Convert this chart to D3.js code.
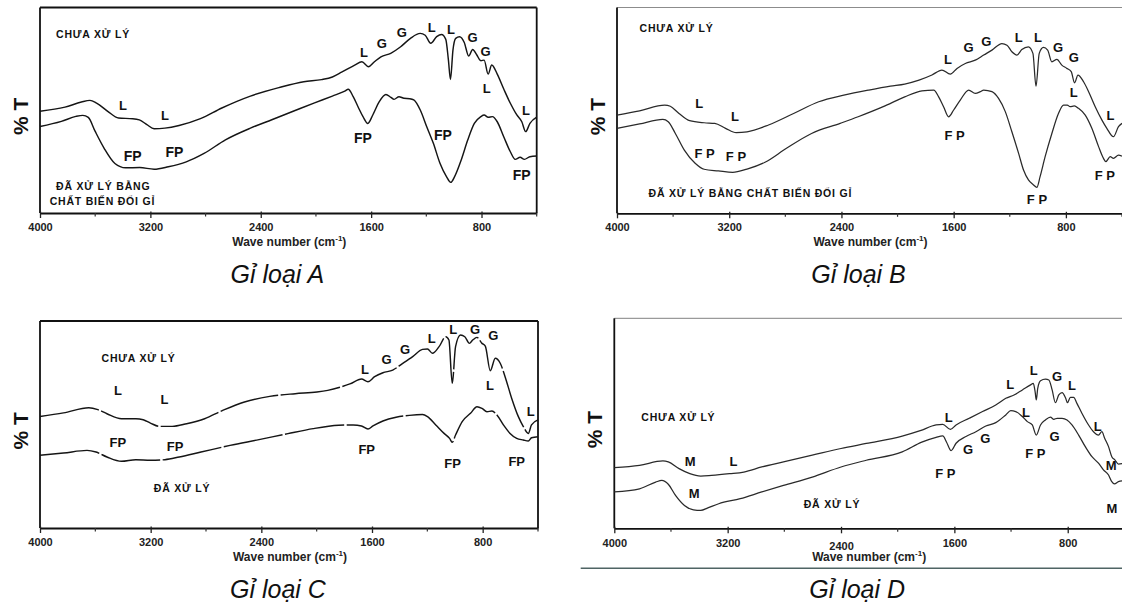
<!DOCTYPE html>
<html><head><meta charset="utf-8">
<script src="https://cdn.jsdelivr.net/npm/d3@7"></script>
<style>
html,body{margin:0;padding:0;background:#fff;}
svg{display:block;}
text{font-family: Arial, "Liberation Sans", sans-serif;}
</style></head><body>
<svg id="chart" width="1122" height="606"></svg>
<script>
// ---------- axis ticks ----------
const majorTicks = [4000, 3200, 2400, 1600, 800];
const minorTicks = [3600, 2800, 2000, 1200, 400];
const xDomain = [4000, 400];
const yDomain = [0, 100];
const titles = ["Gỉ loại A", "Gỉ loại B", "Gỉ loại C", "Gỉ loại D"];

// ---------- spectra: [wavenumber, %T (relative)] ----------
const aUntreated = [[4000,49.5],[3819,51.5],[3700,54],[3638,54.8],[3590,53.5],[3509,49.5],[3431,46.2],[3328,45.9],[3280,45.3],[3225,43],[3173,41],[3095,41.3],[2992,42.6],[2837,45.9],[2682,51.1],[2475,56.9],[2269,61],[2088,63.9],[1959,64.9],[1881,66.2],[1814,68.5],[1719,72],[1667,73.6],[1619,71.2],[1576,73.6],[1529,76],[1458,77.7],[1386,80.9],[1315,85],[1244,87.4],[1208,86.5],[1168,82.6],[1125,85.8],[1090,86.9],[1059,84.5],[1040,74.5],[1025,65],[1007,79.3],[987,85],[959,85.8],[925,83],[893,76.4],[864,79.6],[835,77],[805,74.1],[781,74.4],[752,67.6],[726,72],[686,67.6],[638,60.2],[591,53.4],[544,47.7],[508,44.4],[480,39.6],[449,43.6],[400,46.6]];
const aTreated = [[4000,42.1],[3845,44.6],[3740,47],[3690,47.5],[3650,46.5],[3600,39.7],[3535,31.5],[3457,24.1],[3380,22],[3277,22.1],[3173,21.3],[3070,22.5],[2940,24.9],[2811,29],[2656,35.6],[2475,41.3],[2320,45.4],[2165,49.5],[2010,53.6],[1881,56.9],[1791,59.3],[1766,60.2],[1730,56.6],[1695,51.7],[1659,46.9],[1624,43.6],[1588,47.7],[1541,54.2],[1493,57.7],[1457,56.3],[1434,55.3],[1398,56.6],[1362,55.8],[1320,55.6],[1291,55],[1244,50.1],[1197,42],[1149,33.9],[1101,24.2],[1054,17.7],[1023,14.9],[995,17.7],[947,25.8],[900,35.5],[852,43.6],[805,46.9],[781,47.7],[752,46.6],[721,46.9],[686,44.4],[639,37.1],[591,29.8],[556,26.1],[520,27.1],[489,26.1],[449,27.4],[400,27.7]];

const bUntreated = [[4000,47.7],[3839,49.8],[3660,52.6],[3620,52],[3558,48.5],[3482,45],[3379,44],[3303,43.7],[3226,41.3],[3150,39.2],[3073,39.6],[2920,42.9],[2741,48.5],[2562,54.2],[2383,57.4],[2205,59.9],[2051,61.8],[1949,62.8],[1847,64.7],[1755,67.2],[1684,69.6],[1624,67.6],[1576,70.4],[1517,72.8],[1446,74.4],[1386,76.9],[1327,79.3],[1256,82.5],[1220,81.7],[1185,78.5],[1149,76.9],[1114,79.6],[1067,80.9],[1035,77.7],[1013,61.8],[990,77.7],[960,80.6],[930,79.3],[900,73.6],[864,74.8],[829,72],[795,70.5],[762,68.8],[738,63.4],[714,67.2],[674,63.9],[638,59.1],[591,51.8],[543,45.3],[508,41.3],[461,37.2],[425,42.1],[400,43.7]];
const bTreated = [[4000,41.3],[3839,43.4],[3673,45.6],[3635,44.5],[3584,38.8],[3520,30.7],[3443,24.3],[3379,21.4],[3277,20.6],[3175,19.9],[3073,21.5],[2945,24.8],[2792,31.6],[2613,38.8],[2409,43.7],[2281,46.9],[2102,51.8],[1949,56.6],[1826,59.5],[1742,59.9],[1707,56.6],[1672,51.8],[1636,46.9],[1600,50.2],[1553,55],[1493,59.9],[1446,58.3],[1410,59.1],[1386,59.9],[1327,59.1],[1280,55.8],[1232,49.4],[1185,39.6],[1137,29.1],[1102,21],[1067,16.2],[1031,13.8],[1007,12.6],[984,17.8],[948,27.5],[900,38.8],[853,48.5],[817,52.6],[790,52.6],[770,51.8],[740,52.2],[710,51],[662,47.7],[615,41.3],[567,32.4],[532,26.7],[515,25.1],[484,27.5],[461,26.7],[425,28.3],[400,27.8]];

const cUntreated = [[4000,53.9],[3830,55.6],[3647,58.1],[3582,57.2],[3516,55.2],[3411,52.8],[3307,52.8],[3254,52.3],[3202,50.7],[3137,49.1],[3045,49.1],[2940,50.4],[2810,52.8],[2679,56.8],[2522,60.9],[2339,63.6],[2155,64.9],[1998,65.7],[1920,66.5],[1832,68],[1760,69.6],[1676,72],[1629,70.7],[1581,73.1],[1521,75],[1450,76.3],[1378,79.5],[1306,82.8],[1235,86.3],[1199,86.5],[1163,84.4],[1115,87.6],[1067,92.4],[1044,90.8],[1020,69.9],[996,87.6],[960,93.2],[929,92.4],[896,89.2],[872,90.8],[841,92.1],[805,89.2],[781,87.9],[745,76],[709,82],[673,79.6],[638,73.1],[590,62.6],[542,53.8],[506,49],[470,45.7],[447,49.8],[400,52.2]];
const cTreated = [[4000,35.1],[3830,36.2],[3660,37.5],[3595,36.7],[3516,34.3],[3411,32.2],[3307,33],[3202,32.7],[3097,33],[2993,34.3],[2836,36.7],[2626,39.9],[2417,42.7],[2208,45.6],[2025,48],[1841,49.6],[1736,49.8],[1676,49.3],[1629,47.8],[1593,49.3],[1521,51.7],[1426,53.5],[1330,54.4],[1235,54.8],[1199,53.8],[1139,49.8],[1079,45.7],[1039,43.3],[1020,41.4],[996,44.9],[948,51.4],[888,55.4],[841,58.6],[805,57.8],[769,56.2],[733,56.5],[697,54.6],[650,49.8],[602,45.7],[554,43.3],[506,42.5],[470,42],[447,43.6],[400,44.1]];

const dUntreated = [[4000,28.9],[3822,30],[3657,32.1],[3619,31.6],[3543,28.4],[3467,26],[3390,24.9],[3314,25.2],[3187,26],[3086,26.8],[2959,29.2],[2806,31.6],[2603,34.8],[2400,38],[2222,40.4],[1968,43.9],[1841,46.5],[1729,49.2],[1682,49.5],[1628,47.1],[1588,49.2],[1495,52.4],[1401,55.6],[1308,58.7],[1237,61.9],[1179,63.5],[1120,65.9],[1062,68.3],[1043,69],[1030,65],[1022,61.1],[1012,66.5],[1000,69.5],[992,70.3],[957,71],[933,70.6],[910,65.9],[887,59.8],[863,63.5],[840,64.6],[815,62],[802,59.8],[781,62.4],[758,62.4],[735,59.5],[700,54.8],[653,49.2],[618,46],[583,44.4],[559,46],[540,43],[512,38.9],[489,34.1],[466,32.5],[442,30.6],[400,31]];
const dTreated = [[4000,17.3],[3822,18.8],[3708,22],[3665,22.8],[3619,21],[3568,15.7],[3505,10.9],[3441,8.8],[3390,8.5],[3340,9.7],[3263,11.7],[3111,14.1],[2959,17.3],[2806,20.4],[2603,24.4],[2400,29.2],[2222,32.4],[1968,36.4],[1830,41],[1729,43.3],[1682,44],[1655,41],[1623,37],[1588,40.5],[1518,43.7],[1448,46],[1378,48.7],[1308,50.3],[1237,54],[1202,56],[1167,55.6],[1120,53.2],[1085,50.8],[1050,49.2],[1022,44.4],[992,49.2],[957,51.6],[922,52.9],[898,51.9],[875,52.4],[840,52.4],[805,51.6],[770,49.2],[723,44.4],[676,38.9],[629,34.1],[583,31],[548,27.8],[512,25.4],[489,22.2],[470,21.1],[442,22.2],[400,22.7]];

// ---------- band annotations: [text, wavenumber, %T] ----------
const aLabels = [["L",1652,77.9],["G",1523,82.7],["G",1378,87.6],["L",1161,90.5],["L",1021,89.1],["G",864,85.6],["G",770,78.8],["L",762,60.8],["L",477,50.1],["FP",1659,36.5],["FP",1079,38],["FP",509,18.5],["L",3398,52.4],["L",3095,47.5],["FP",3328,27.9],["FP",3026,29.5]];
const bLabels = [["L",1640,74.8],["G",1493,80.7],["G",1367,83.4],["L",1136,85.5],["L",999,85.5],["G",856,80.7],["G",744,75.8],["L",744,58.6],["L",483,47.3],["F P",1593,37.6],["F P",1006,6.5],["F P",523,18.3],["L",3414,53.4],["L",3159,46.9],["F P",3376,29.2],["F P",3152,27.5]];
const cLabels = [["L",1651,76.7],["G",1494,81.2],["G",1361,86.3],["L",1168,91.6],["L",1012,96],["G",855,95.7],["G",723,93.2],["L",747,68.6],["L",453,56.2],["FP",1638,38],["FP",1017,31.3],["FP",554,32],["L",3437,66.3],["L",3101,62.2],["FP",3437,41.2],["FP",3024,39.3]];
const dLabels = [["L",1640,52.9],["L",1205,68.7],["L",1040,75],["G",876,72.5],["L",770,67.8],["L",589,48.4],["M",493,30.1],["M",488,9.5],["G",1504,37.3],["G",1382,42.9],["L",1095,55],["F P",1029,35.4],["G",892,43.6],["F P",1664,25.9],["M",3464,31.7],["L",3159,31.7],["M",3436,16.7]];

// ---------- series captions: [text, wavenumber, %T, anchor] ----------
const aNotes = [["CHƯA XỬ LÝ",3884,87.1,"start"],["ĐÃ XỬ LÝ BẰNG",3884,13.1,"start"],["CHẤT BIẾN ĐỔI GỈ",3930,5.8,"start"]];
const bNotes = [["CHƯA XỬ LÝ",3839,89.9,"start"],["ĐÃ XỬ LÝ BẰNG CHẤT BIẾN ĐỔI GỈ",3775,9.7,"start"]];
const cNotes = [["CHƯA XỬ LÝ",3555,82,"start"],["ĐÃ XỬ LÝ",2973,19.2,"middle"]];
const dNotes = [["CHƯA XỬ LÝ",3809,53.1,"start"],["ĐÃ XỬ LÝ",2464,11.6,"middle"]];

// ---------- layout ----------
const panels = [
  {left:40, right:536.7, top:7.5, bottom:213, series:[aUntreated,aTreated], labels:aLabels, notes:aNotes, title:titles[0], topColor:"#111", rightBorder:true, dash:null, lw:1.45, lc:"#151515", fp:14},
  {left:617, right:1122, top:7.5, bottom:213.3, series:[bUntreated,bTreated], labels:bLabels, notes:bNotes, title:titles[1], topColor:"#8c8c8c", rightBorder:false, dash:null, lw:1.25, lc:"#2a2a2a", fp:13},
  {left:40, right:538, top:321, bottom:528, series:[cUntreated,cTreated], labels:cLabels, notes:cNotes, title:titles[2], topColor:"#111", rightBorder:true, dash:"60 2.5", lw:1.45, lc:"#151515", fp:13},
  {left:614.3, right:1124.4, top:318.3, bottom:528.3, series:[dUntreated,dTreated], labels:dLabels, notes:dNotes, title:titles[3], topColor:"#9a9a9a", rightBorder:false, dash:null, lw:1.25, lc:"#2a2a2a", fp:13, underline:true}
];

const svg = d3.select("#chart");

panels.forEach((p, i) => {
  const g = svg.append("g");
  const x = d3.scaleLinear().domain(xDomain).range([p.left, p.right]);
  const y = d3.scaleLinear().domain(yDomain).range([p.bottom, p.top]);

  // frame
  g.append("line").attr("x1", p.left).attr("x2", Math.min(p.right, 1122)).attr("y1", p.top).attr("y2", p.top)
    .attr("stroke", p.topColor).attr("stroke-width", p.rightBorder ? 1.8 : 1.2);
  g.append("line").attr("x1", p.left).attr("x2", p.left).attr("y1", p.top).attr("y2", p.bottom)
    .attr("stroke", "#111").attr("stroke-width", 1.8);
  if (p.rightBorder) {
    g.append("line").attr("x1", p.right).attr("x2", p.right).attr("y1", p.top).attr("y2", p.bottom)
      .attr("stroke", "#111").attr("stroke-width", 1.8);
  }

  // x axis
  const axis = d3.axisBottom(x).tickValues(majorTicks).tickSize(5).tickSizeOuter(0).tickFormat(d3.format("d"));
  const ax = g.append("g").attr("transform", `translate(0,${p.bottom})`).call(axis);
  ax.select(".domain").attr("stroke", "#111").attr("stroke-width", 1.8);
  ax.selectAll(".tick line").attr("stroke", "#222").attr("stroke-width", 1.3).attr("y1", -1.5);
  ax.selectAll(".tick text").attr("font-family", "Arial, 'Liberation Sans', sans-serif")
    .attr("font-size", 11).attr("font-weight", "bold").attr("fill", "#222")
    .attr("y", 0).attr("dy", null).attr("dominant-baseline", "central")
    .attr("transform", d => `translate(0,${(i === 3 ? 15 : 14) + (i === 3 && d === 2400 ? 3 : 0)})`);
  g.append("g").selectAll("line").data(minorTicks).join("line")
    .attr("x1", d => x(d)).attr("x2", d => x(d)).attr("y1", p.bottom).attr("y2", p.bottom + 3.5)
    .attr("stroke", "#333").attr("stroke-width", 1.2);

  // curves
  const line = d3.line().x(d => x(d[0])).y(d => y(d[1])).curve(d3.curveMonotoneX);
  g.selectAll("path.spec").data(p.series).join("path").attr("class", "spec")
    .attr("d", line).attr("fill", "none").attr("stroke", p.lc).attr("stroke-width", p.lw)
    .attr("stroke-linejoin", "round").attr("stroke-dasharray", p.dash);

  // band labels
  g.selectAll("text.band").data(p.labels).join("text").attr("class", "band")
    .attr("x", d => x(d[1])).attr("y", d => y(d[2]))
    .attr("text-anchor", "middle").attr("dominant-baseline", "central")
    .attr("font-weight", "bold").attr("fill", "#111")
    .attr("font-size", d => d[0].length > 1 ? p.fp : 13)
    .text(d => d[0]);

  // captions
  g.selectAll("text.note").data(p.notes).join("text").attr("class", "note")
    .attr("x", d => x(d[1])).attr("y", d => y(d[2]))
    .attr("text-anchor", d => d[3]).attr("dominant-baseline", "central")
    .attr("font-weight", "bold").attr("font-size", 10.5).attr("letter-spacing", 0.8).attr("fill", "#111")
    .text(d => d[0]);

  // y label
  const cx = (p.left + Math.min(p.right, 1122)) / 2;
  g.append("text").attr("transform", `translate(${p.left - 20},${p.top + 0.53 * (p.bottom - p.top)}) rotate(-90)`)
    .attr("text-anchor", "middle").attr("dominant-baseline", "central")
    .attr("font-weight", "bold").attr("font-size", 21).attr("fill", "#111").text("% T");

  // x label
  const xl = g.append("text").attr("x", cx + 1).attr("y", p.bottom + 29)
    .attr("text-anchor", "middle").attr("dominant-baseline", "central")
    .attr("font-weight", "bold").attr("font-size", 12).attr("fill", "#222");
  xl.append("tspan").text("Wave number (cm");
  xl.append("tspan").attr("font-size", 8).attr("dy", -4).text("-1");
  xl.append("tspan").attr("dy", 4).text(")");

  // title
  g.append("text").attr("x", cx - 11).attr("y", p.bottom + 70)
    .attr("text-anchor", "middle").attr("font-style", "italic").attr("font-size", 25).attr("fill", "#111")
    .text(p.title);

  if (p.underline) {
    g.append("line").attr("x1", 580.7).attr("x2", 1122).attr("y1", 568.3).attr("y2", 568.3)
      .attr("stroke", "#4f6464").attr("stroke-width", 1.6);
  }
});
</script>
</body></html>
